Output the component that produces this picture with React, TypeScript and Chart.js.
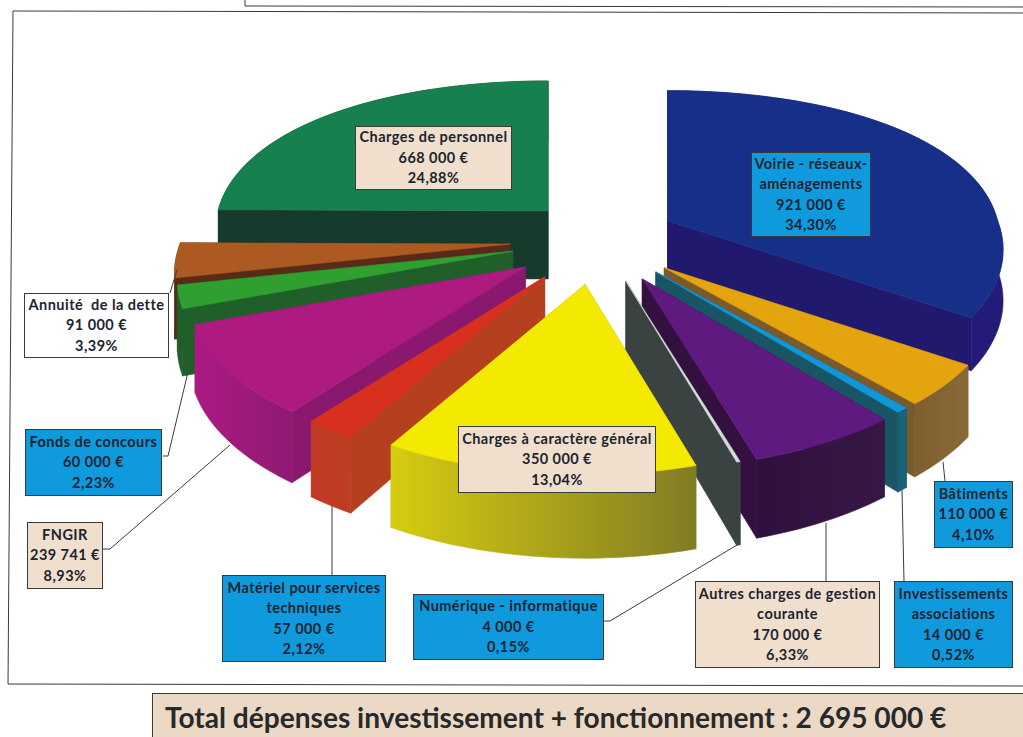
import React, { useEffect, useRef } from "react";
import { Chart, registerables } from "chart.js";

Chart.register(...registerables);

// ---- data ----
const categories = [
  "Voirie - réseaux- aménagements",
  "Bâtiments",
  "Investissements associations",
  "Autres charges de gestion courante",
  "Numérique - informatique",
  "Charges à caractère général",
  "Matériel pour services techniques",
  "FNGIR",
  "Fonds de concours",
  "Annuité  de la dette",
  "Charges de personnel",
];
const amounts = [921000, 110000, 14000, 170000, 4000, 350000, 57000, 239741, 60000, 91000, 668000];
const amountLabels = ["921 000 €", "110 000 €", "14 000 €", "170 000 €", "4 000 €", "350 000 €", "57 000 €", "239 741 €", "60 000 €", "91 000 €", "668 000 €"];
const percentLabels = ["34,30%", "4,10%", "0,52%", "6,33%", "0,15%", "13,04%", "2,12%", "8,93%", "2,23%", "3,39%", "24,88%"];
const labelLines = [
  ["Voirie - réseaux-", "aménagements"],
  ["Bâtiments"],
  ["Investissements", "associations"],
  ["Autres charges de gestion", "courante"],
  ["Numérique - informatique"],
  ["Charges à caractère général"],
  ["Matériel pour services", "techniques"],
  ["FNGIR"],
  ["Fonds de concours"],
  ["Annuité  de la dette"],
  ["Charges de personnel"],
];
const totalLabel = "Total dépenses investissement + fonctionnement : 2 695 000 €";

// ---- styles ----
const topColors = ["#16308a", "#e4a40e", "#0f97d8", "#5f1a80", "#d5dcdc", "#f4e900", "#d8301e", "#ad1a80", "#2f9f30", "#ad5a22", "#17804f"];
const cutColors = ["#21196e", "#7a5a2c", "#1a5566", "#33103f", "#3b4242", "#a39a12", "#b5401f", "#8a186e", "#205f2a", "#5a2a18", "#163a2b"];
const rimLeft = ["#241b78", "#7e5e2e", "#1a5f70", "#2e0f3e", "#3b4242", "#d6cc10", "#c23a25", "#ab1b82", "#205f2a", "#5a2a18", "#163a2b"];
const rimRight = ["#241b78", "#8a6a38", "#15667c", "#371845", "#3b4242", "#807c24", "#bc3e22", "#8f1a72", "#205f2a", "#5a2a18", "#163a2b"];
const depths = [50, 68, 74, 72, 76, 76, 70, 66, 65, 60, 68];
const drawOrder = [10, 9, 8, 7, 6, 0, 1, 2, 3, 4, 5];
const nudgeX = [0, 7, 7, 8, 7, 0, -4, -3, -3, -3, 11];
const nudgeY = [0, 1, 1, 3, 2, 4, 3, 3, 0, 0, 0];

const TAN = "#efdfcc";
const SKY = "#0f9ade";
const boxes = [
  { x: 751, y: 152, w: 120, h: 85, bg: SKY, i: 0 },
  { x: 934, y: 481, w: 79, h: 67, bg: SKY, i: 1 },
  { x: 894, y: 581, w: 119, h: 87, bg: SKY, i: 2 },
  { x: 695, y: 581, w: 185, h: 87, bg: TAN, i: 3 },
  { x: 413, y: 594, w: 191, h: 66, bg: SKY, i: 4 },
  { x: 458, y: 426, w: 198, h: 67, bg: TAN, i: 5 },
  { x: 222, y: 575, w: 164, h: 87, bg: SKY, i: 6 },
  { x: 27, y: 522, w: 76, h: 67, bg: TAN, i: 7 },
  { x: 25, y: 429, w: 137, h: 67, bg: SKY, i: 8 },
  { x: 24, y: 293, w: 145, h: 65, bg: "#ffffff", i: 9 },
  { x: 355, y: 126, w: 157, h: 64, bg: TAN, i: 10 },
];
const leaders = [
  [[170, 293], [177, 270]],
  [[163, 456], [168, 456], [188, 372]],
  [[103, 549], [110, 549], [230, 445]],
  [[332, 575], [332, 506]],
  [[604, 621], [610, 621], [737, 545]],
  [[826, 581], [826, 523]],
  [[904, 581], [902, 490]],
  [[945, 481], [943, 462]],
];
const frames = [
  [[245, 0], [245, 6], [1023, 7]],
  [[13, 11], [8, 684], [1023, 686]],
  [[13, 11], [1023, 13]],
];

// perspective-like projection of the flat pie on the page
const ORIGIN_X = 595;
const ORIGIN_Y = 240;
const local = (u: number, v: number) => [u * (330 + (v > 0 ? 62 : 40) * v), 160 * v + 30 * v * v];

const pie3d = {
  id: "pie3d",
  beforeDatasetDraw(chart: any) {
    const ctx = chart.ctx as CanvasRenderingContext2D;
    const arcs = chart.getDatasetMeta(0).data;
    for (const i of drawOrder) {
      const el = arcs[i];
      const a0 = el.startAngle;
      const a1 = el.endAngle;
      const mid = (a0 + a1) / 2;
      const expl = el.options.offset / el.outerRadius;
      const ax = ORIGIN_X + 338 * expl * Math.cos(mid) + nudgeX[i];
      const ay = ORIGIN_Y + 168 * expl * Math.sin(mid) + nudgeY[i];
      const D = depths[i];
      const rim: number[][] = [];
      const n = Math.max(4, Math.ceil((a1 - a0) / 0.03));
      for (let k = 0; k <= n; k++) {
        const t = a0 + ((a1 - a0) * k) / n;
        const u = Math.cos(t);
        const v = Math.sin(t);
        const [dx, dy] = local(u, v);
        rim.push([ax + dx, ay + dy, D * (1 + 0.1 * v)]);
      }
      const poly = (pts: number[][], fill: any) => {
        ctx.beginPath();
        pts.forEach((p, j) => (j ? ctx.lineTo(p[0], p[1]) : ctx.moveTo(p[0], p[1])));
        ctx.closePath();
        ctx.fillStyle = fill;
        ctx.strokeStyle = fill;
        ctx.lineWidth = 0.6;
        ctx.fill();
        ctx.stroke();
      };
      const first = rim[0];
      const last = rim[rim.length - 1];
      // cut faces
      poly([[ax, ay], [first[0], first[1]], [first[0], first[1] + first[2]], [ax, ay + D]], cutColors[i]);
      poly([[ax, ay], [last[0], last[1]], [last[0], last[1] + last[2]], [ax, ay + D]], cutColors[i]);
      // outer wall
      const xs = rim.map((p) => p[0]);
      const g = ctx.createLinearGradient(Math.min(...xs), 0, Math.max(...xs) + 1, 0);
      g.addColorStop(0, rimLeft[i]);
      g.addColorStop(1, rimRight[i]);
      poly([...rim.map((p) => [p[0], p[1]]), ...rim.slice().reverse().map((p) => [p[0], p[1] + p[2]])], g);
      // top face
      poly([[ax, ay], ...rim.map((p) => [p[0], p[1]])], topColors[i]);
    }
    // leader lines and frames
    ctx.lineWidth = 1;
    ctx.strokeStyle = "#3a3a3a";
    for (const path of [...leaders, ...frames]) {
      ctx.beginPath();
      path.forEach((p, j) => (j ? ctx.lineTo(p[0], p[1]) : ctx.moveTo(p[0], p[1])));
      ctx.stroke();
    }
    return false;
  },
};

export default function App() {
  const ref = useRef<HTMLCanvasElement>(null);
  useEffect(() => {
    const chart = new Chart(ref.current as HTMLCanvasElement, {
      type: "pie",
      data: {
        labels: categories,
        datasets: [{ data: amounts, backgroundColor: topColors, offset: 80, borderWidth: 0 }],
      },
      options: {
        animation: false,
        responsive: false,
        plugins: { legend: { display: false }, tooltip: { enabled: false } },
      },
      plugins: [pie3d],
    } as any);
    return () => chart.destroy();
  }, []);
  return (
    <div style={{ position: "fixed", left: 0, top: 0, width: 1023, height: 737, overflow: "hidden", background: "#fff", fontFamily: "Lato, sans-serif", filter: "blur(0.4px)" }}>
      <canvas ref={ref} width={1023} height={737} style={{ display: "block", position: "absolute", left: 0, top: 0 }} />
      {boxes.map((b) => (
        <div
          key={b.i}
          style={{
            position: "absolute",
            left: b.x,
            top: b.y,
            width: b.w,
            height: b.h,
            boxSizing: "border-box",
            background: b.bg,
            border: "1px solid #3a3a3a",
            color: "#1c2430",
            fontWeight: 700,
            fontSize: 14.5,
            letterSpacing: 0.45,
            lineHeight: "20.5px",
            textAlign: "center",
            whiteSpace: "pre",
            display: "flex",
            flexDirection: "column",
            justifyContent: "center",
          }}
        >
          {[...labelLines[b.i], amountLabels[b.i], percentLabels[b.i]].map((t, j) => (
            <div key={j}>{t}</div>
          ))}
        </div>
      ))}
      <div
        style={{
          position: "absolute",
          left: 152,
          top: 693,
          width: 880,
          height: 60,
          boxSizing: "border-box",
          background: "#ecd9c5",
          border: "1px solid #3a3a3a",
          color: "#252a2c",
          fontWeight: 700,
          fontSize: 28.1,
          lineHeight: "47px",
          paddingLeft: 12,
          whiteSpace: "pre",
        }}
      >
        {totalLabel}
      </div>
    </div>
  );
}
